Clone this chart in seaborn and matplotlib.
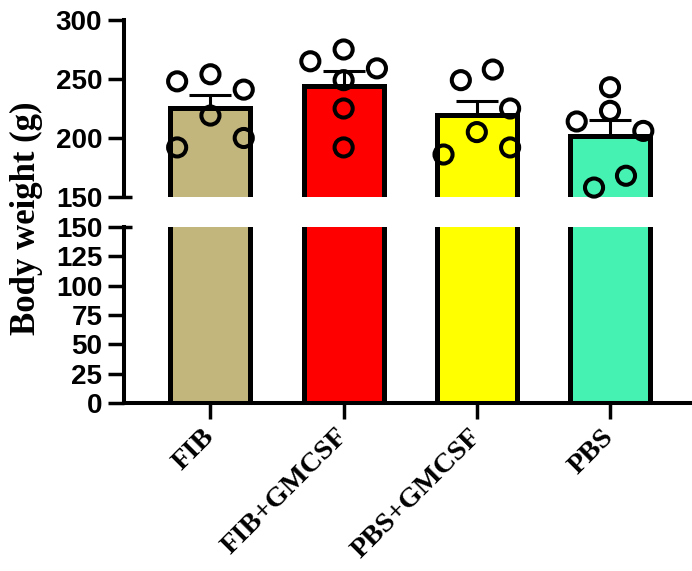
import numpy as np
import pandas as pd
import matplotlib
matplotlib.use("Agg")
import matplotlib.pyplot as plt
import seaborn as sns

# data
groups = ["FIB", "FIB+GMCSF", "PBS+GMCSF", "PBS"]
colors = ["#C2B67D", "#FF0000", "#FFFF00", "#45F2B2"]

fib = [248, 254, 241, 219, 192, 200]
fib_gmcsf = [265, 275, 259, 249, 225, 192]
pbs_gmcsf = [249, 258, 225, 205, 186, 192]
pbs = [243, 223, 214, 206, 168, 158]

# sideways spread of the dots within a bar (in category steps)
spread = [[-0.25, 0, 0.25, 0, -0.25, 0.25],
          [-0.25, 0, 0.25, 0, 0, 0],
          [-0.12, 0.12, 0.25, 0, -0.25, 0.25],
          [0, 0, -0.25, 0.25, 0.12, -0.12]]

values = [fib, fib_gmcsf, pbs_gmcsf, pbs]
df = pd.DataFrame({
    "group": np.repeat(groups, [len(v) for v in values]),
    "weight": np.concatenate(values),
})
df["x"] = df["group"].map({g: i for i, g in enumerate(groups)}) + np.concatenate(spread)
stats = df.groupby("group", sort=False)["weight"].agg(["mean", "sem"])

sns.set_style("ticks")
plt.rcParams["font.family"] = ["Liberation Sans", "DejaVu Sans"]
plt.rcParams["text.color"] = "black"
plt.rcParams["axes.edgecolor"] = "black"
plt.rcParams["xtick.color"] = "black"
plt.rcParams["ytick.color"] = "black"
plt.rcParams["axes.labelcolor"] = "black"

fig = plt.figure(figsize=(6.92, 5.71), dpi=100)
ax_top = fig.add_axes([0.179, 0.655, 0.818, 0.310])
ax_bot = fig.add_axes([0.179, 0.294, 0.818, 0.3085])

for ax in (ax_top, ax_bot):
    sns.barplot(data=df, x="group", y="weight", hue="group", palette=colors,
                saturation=1, errorbar=None, width=0.6, edgecolor="black",
                linewidth=3.6, legend=False, ax=ax)
    ax.set_xlim(-0.65, 3.6)
    ax.set_xlabel("")
    ax.set_ylabel("")
    for side in ["top", "right"]:
        ax.spines[side].set_visible(False)
    ax.spines["left"].set_linewidth(2.9)
    ax.spines["bottom"].set_linewidth(2.9)
    ax.tick_params(width=2.5, length=11.5, pad=4, labelsize=20, colors="black")

# upper part
ax_top.errorbar(range(len(groups)), stats["mean"], yerr=[np.zeros(len(groups)), stats["sem"]],
                fmt="none", ecolor="black", elinewidth=2.2, capsize=15, capthick=2.2, zorder=3)
sns.scatterplot(data=df, x="x", y="weight", ax=ax_top, s=170, marker="o",
                facecolor="none", edgecolor="black", linewidth=2.9,
                zorder=4, clip_on=False, legend=False)
ax_top.set_xlim(-0.65, 3.6)
ax_top.set_ylim(150, 300)
ax_top.set_yticks([150, 200, 250, 300])
ax_top.set_yticklabels(["150", "200", "250", "300"], fontweight="bold")
ax_top.spines["bottom"].set_visible(False)
ax_top.set_xticks([])
ax_top.set_xlabel("")
ax_top.set_ylabel("")

# lower part
ax_bot.set_ylim(0, 150)
ax_bot.set_yticks(range(0, 151, 25))
ax_bot.set_yticklabels([str(v) for v in range(0, 151, 25)], fontweight="bold")
ax_bot.set_xticks(range(len(groups)))
ax_bot.set_xticklabels(groups, rotation=45, ha="right", va="center",
                       rotation_mode="anchor", fontsize=20.5, fontweight="bold",
                       family="Liberation Serif")
ax_bot.tick_params(axis="x", pad=10)

# break marks on the axis
ax_top.plot([0, 0.014], [0, 0], transform=ax_top.transAxes, color="black",
            lw=2.5, clip_on=False, solid_capstyle="butt")
ax_bot.plot([0, 0.014], [1, 1], transform=ax_bot.transAxes, color="black",
            lw=2.5, clip_on=False, solid_capstyle="butt")

fig.text(0.038, 0.618, "Body weight (g)", rotation=90, ha="center", va="center",
         fontsize=25, fontweight="bold", family="Liberation Serif")

fig.savefig("out.png", dpi=100)
